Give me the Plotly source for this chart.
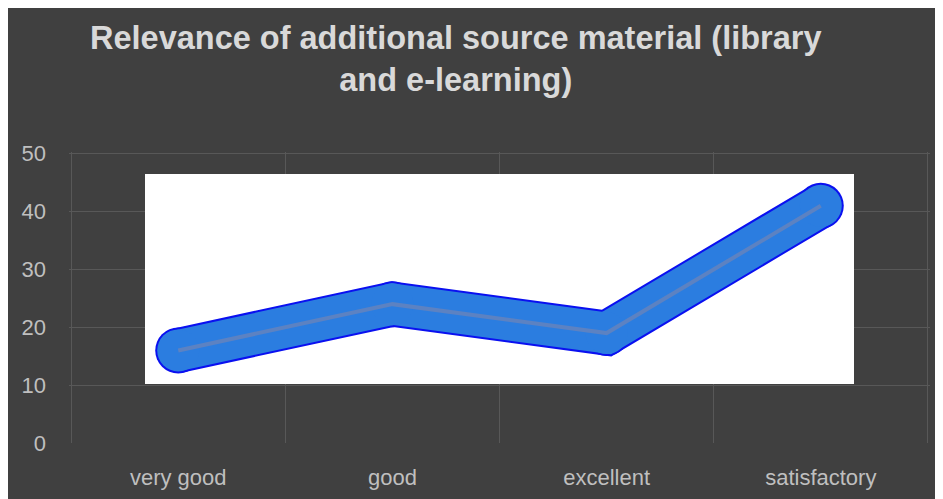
import plotly.graph_objects as go

categories = ["very good", "good", "excellent", "satisfactory"]
values = [16, 24, 19, 41]
y_ticks = [0, 10, 20, 30, 40, 50]
title_text = "<b>Relevance of additional source material (library<br>and e-learning)</b>"

W, H = 943, 499
L, R, T, B = 61, 21, 144, 64
pw, ph = W - L - R, H - T - B
XR = [-0.51, 3.51]
YR = [0, 50.3]

def px_x(p):
    return (p - L) / pw

def px_y(p):
    return (H - B - p) / ph

def dx(p):
    return XR[0] + px_x(p) * (XR[1] - XR[0])

def dy(p):
    return YR[0] + px_y(p) * (YR[1] - YR[0])

FONT = "Liberation Sans, Arial, sans-serif"
BG = "#404040"
GRID = "#585858"

fig = go.Figure()
# outer edge of the thick line
fig.add_trace(go.Scatter(
    x=categories, y=values, mode="lines+markers",
    line=dict(color="#0a10f0", width=45),
    marker=dict(color="#0a10f0", size=46, symbol="circle", line=dict(width=0)),
    hoverinfo="skip", showlegend=False,
))
# blue body
fig.add_trace(go.Scatter(
    x=categories, y=values, mode="lines+markers",
    line=dict(color="#2b7de0", width=41),
    marker=dict(color="#2b7de0", size=42, symbol="circle", line=dict(width=0)),
    hoverinfo="skip", showlegend=False,
))
# thin gray center line
fig.add_trace(go.Scatter(
    x=categories, y=values, mode="lines",
    line=dict(color="#5c82c2", width=4),
    showlegend=False,
))

shapes = [
    dict(type="rect", xref="x", yref="y",
         x0=dx(137), x1=dx(846), y0=dy(376), y1=dy(166),
         fillcolor="white", line=dict(width=0), layer="between"),
]

annotations = [
    dict(text=title_text, xref="paper", yref="paper",
         x=px_x(448), y=px_y(51), xanchor="center", yanchor="middle",
         showarrow=False, align="center",
         font=dict(family=FONT, size=32.5, color="#d9d9d9")),
]

fig.update_layout(
    width=W, height=H,
    margin=dict(l=L, r=R, t=T, b=B),
    paper_bgcolor=BG, plot_bgcolor=BG,
    shapes=shapes,
    annotations=annotations,
    xaxis=dict(
        type="category", categoryorder="array", categoryarray=categories,
        range=XR, tickson="boundaries",
        showgrid=True, gridcolor=GRID, gridwidth=1.3,
        ticks="", ticklabelstandoff=19,
        tickfont=dict(family=FONT, size=22, color="#bfbfbf"),
        showline=False, zeroline=False,
    ),
    yaxis=dict(
        range=YR, tickvals=y_ticks,
        showgrid=True, gridcolor=GRID, gridwidth=1.3,
        ticks="", ticklabelstandoff=22,
        tickfont=dict(family=FONT, size=22, color="#bfbfbf"),
        showline=False, zeroline=False,
    ),
    font=dict(family=FONT),
)

fig.write_html("out.html")
